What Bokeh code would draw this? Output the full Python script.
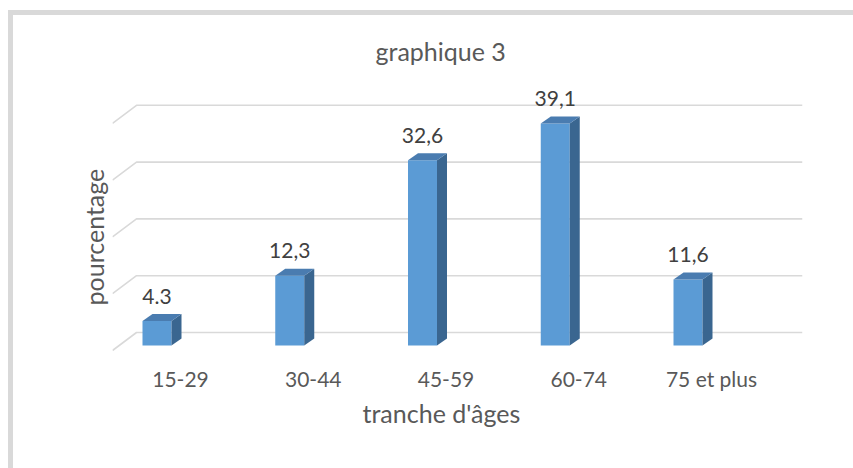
from bokeh.plotting import figure
from bokeh.models import Range1d, FixedTicker, Title
from bokeh.embed import file_html
from bokeh.resources import INLINE
from bokeh.core.properties import value

# ---- data ----
categories = ["15-29", "30-44", "45-59", "60-74", "75 et plus"]
percentages = [4.3, 12.3, 32.6, 39.1, 11.6]
value_labels = ["4.3", "12,3", "32,6", "39,1", "11,6"]
grid_values = [0, 10, 20, 30, 40]

# ---- layout constants (pixels) ----
WIDTH, HEIGHT = 853, 468
BORDER_L, BORDER_R, BORDER_T, BORDER_B = 112, 51, 80, 108
FRAME_W = WIDTH - BORDER_L - BORDER_R
FRAME_H = HEIGHT - BORDER_T - BORDER_B
CAT_PX = 132.75      # pixels per category
UNIT_PX = 5.68       # pixels per percent
FIRST_CAT_PX = 68    # frame left -> first category centre
ZERO_PX = 15         # frame bottom -> value 0

x_start = -FIRST_CAT_PX / CAT_PX
x_end = x_start + FRAME_W / CAT_PX
y_start = -ZERO_PX / UNIT_PX
y_end = y_start + FRAME_H / UNIT_PX


def dx(px):
    return px / CAT_PX


def dy(px):
    return px / UNIT_PX


BAR_SHIFT = dx(-23.5)
BAR_W = dx(29)
DEPTH_X, DEPTH_Y = dx(10), dy(7)
WALL_X, WALL_Y = dx(24), dy(13)
FRONT_DROP = dy(5)

FONT = "Lato"
FRONT = "#5b9bd5"
TOP = "#4a7cb0"
SIDE = "#3a6690"
GRID = "#d9d9d9"

# chart-area frame line (left and top edges) painted behind the transparent canvas
frame_css = ("linear-gradient(#d9d9d9, #d9d9d9) 8px 10px / 5px 458px no-repeat, "
             "linear-gradient(#d9d9d9, #d9d9d9) 8px 10px / 845px 5px no-repeat, #ffffff")

p = figure(width=WIDTH, height=HEIGHT, output_backend="svg", toolbar_location=None,
           x_range=Range1d(x_start, x_end), y_range=Range1d(y_start, y_end),
           min_border_left=BORDER_L, min_border_right=BORDER_R,
           min_border_top=BORDER_T, min_border_bottom=BORDER_B,
           background_fill_color=None, border_fill_color=None,
           styles={"background": frame_css})
p.outline_line_color = None
p.xgrid.visible = False
p.ygrid.visible = False
p.yaxis.visible = False

# back wall gridlines with oblique left edge
gx = [[x_start, x_start + WALL_X, x_end] for g in grid_values]
gy = [[g - FRONT_DROP, g + WALL_Y, g + WALL_Y] for g in grid_values]
p.multi_line(gx, gy, line_color=GRID, line_width=1.6)

# 3D columns
idx = list(range(len(categories)))
front_x = [i + BAR_SHIFT for i in idx]
p.vbar(x=front_x, top=percentages, bottom=0, width=BAR_W, fill_color=FRONT, line_color=None)
side_xs = [[fx + BAR_W / 2, fx + BAR_W / 2, fx + BAR_W / 2 + DEPTH_X, fx + BAR_W / 2 + DEPTH_X]
           for fx in front_x]
side_ys = [[0, v, v + DEPTH_Y, DEPTH_Y] for v in percentages]
p.patches(side_xs, side_ys, fill_color=SIDE, line_color=None)
top_xs = [[fx - BAR_W / 2, fx + BAR_W / 2, fx + BAR_W / 2 + DEPTH_X, fx - BAR_W / 2 + DEPTH_X]
          for fx in front_x]
top_ys = [[v, v, v + DEPTH_Y, v + DEPTH_Y] for v in percentages]
p.patches(top_xs, top_ys, fill_color=TOP, line_color=None)

# data labels
p.text(x=front_x, y=percentages, text=value_labels, text_align="center",
       text_baseline="alphabetic", y_offset=-25, text_font=value(FONT),
       text_font_size="21px", text_color="#404040")

# category axis
xa = p.xaxis[0]
xa.ticker = FixedTicker(ticks=idx)
xa.major_label_overrides = {i: c for i, c in zip(idx, categories)}
xa.axis_line_color = None
xa.major_tick_line_color = None
xa.minor_tick_line_color = None
xa.major_tick_out = 0
xa.major_label_standoff = 5
xa.major_label_text_font = FONT
xa.major_label_text_font_size = "21px"
xa.major_label_text_color = "#595959"

# titles
p.title.text = "graphique 3"
p.title.align = "left"
p.title.offset = 263
p.title.text_font = FONT
p.title.text_font_size = "25px"
p.title.text_font_style = "normal"
p.title.text_color = "#595959"
p.title.standoff = 30

p.add_layout(Title(text="tranche d'âges", align="left", offset=250, text_font=FONT,
                   text_font_size="25px", text_font_style="normal",
                   text_color="#595959", standoff=4), "below")
p.add_layout(Title(text="pourcentage", align="left", offset=55, text_font=FONT,
                   text_font_size="25px", text_font_style="normal",
                   text_color="#595959", standoff=8), "left")

open("out.html", "w").write(file_html(p, INLINE))
